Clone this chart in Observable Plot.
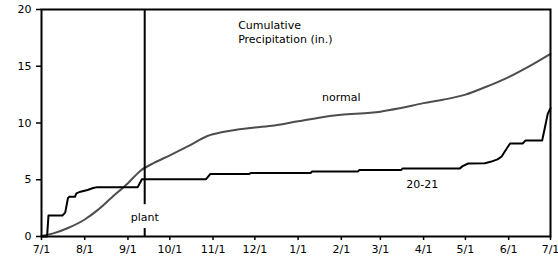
<!DOCTYPE html>
<html>
<head>
<meta charset="utf-8">
<script src="https://cdn.jsdelivr.net/npm/d3@7"></script>
<script src="https://cdn.jsdelivr.net/npm/@observablehq/plot@0.6"></script>
<style>
  html, body { margin: 0; padding: 0; background: #fff; }
  #chart svg { display: block; }
</style>
</head>
<body>
<div id="chart"></div>
<script>
// ---- data ----
const normalDates = ["2020-07-01","2020-07-10","2020-07-20","2020-08-01","2020-08-10","2020-08-20","2020-09-01","2020-09-10","2020-09-20","2020-10-01","2020-10-15","2020-10-28","2020-11-08","2020-11-20","2020-12-01","2020-12-15","2021-01-01","2021-01-15","2021-02-01","2021-02-22","2021-03-01","2021-03-15","2021-04-01","2021-04-15","2021-05-01","2021-05-15","2021-06-01","2021-06-15","2021-07-01"];
const normalValues = [0.05,0.3,0.75,1.5,2.3,3.4,4.7,5.8,6.5,7.15,8.0,8.85,9.2,9.45,9.6,9.78,10.15,10.45,10.72,10.9,11.0,11.3,11.75,12.05,12.5,13.15,14.05,14.95,16.1];

const rainDates = ["2020-07-01","2020-07-05","2020-07-06","2020-07-16","2020-07-18","2020-07-20","2020-07-21","2020-07-25","2020-07-26","2020-07-29","2020-08-03","2020-08-07","2020-08-10","2020-09-08","2020-09-11","2020-10-27","2020-10-30","2020-11-27","2020-11-28","2021-01-10","2021-01-11","2021-02-13","2021-02-14","2021-03-16","2021-03-17","2021-04-27","2021-04-29","2021-05-03","2021-05-15","2021-05-19","2021-05-24","2021-05-27","2021-05-29","2021-06-02","2021-06-11","2021-06-13","2021-06-25","2021-06-27","2021-06-29","2021-07-01"];
const rainValues = [0,0,1.85,1.85,2.1,3.4,3.5,3.5,3.8,3.95,4.1,4.27,4.35,4.35,5.05,5.05,5.5,5.5,5.6,5.6,5.73,5.73,5.87,5.87,6.0,6.0,6.2,6.43,6.45,6.58,6.8,7.05,7.45,8.2,8.2,8.45,8.45,9.6,10.8,11.3];

const xTickDates = ["2020-07-01","2020-08-01","2020-09-01","2020-10-01","2020-11-01","2020-12-01","2021-01-01","2021-02-01","2021-03-01","2021-04-01","2021-05-01","2021-06-01","2021-07-01"];
const xTickLabels = ["7/1","8/1","9/1","10/1","11/1","12/1","1/1","2/1","3/1","4/1","5/1","6/1","7/1"];
const yTicks = [0,5,10,15,20];

const plantDate = "2020-09-13";
const plantSegments = [[20, 2.8], [0.7, 0]];

const labelTexts = ["Cumulative","Precipitation (in.)","normal","20-21","plant"];
const labelDates = ["2020-11-19","2020-11-19","2021-02-01","2021-03-31","2020-09-13"];
const labelValues = [18.63,17.4,12.23,4.6,1.65];
const labelAnchors = ["start","start","middle","middle","middle"];

// ---- build ----
const P = d3.utcParse("%Y-%m-%d");
const normal = normalDates.map((d,i) => ({date: P(d), value: normalValues[i]}));
const rain = rainDates.map((d,i) => ({date: P(d), value: rainValues[i]}));
const xt = xTickDates.map(P);
const labelMap = new Map(xt.map((d,i) => [+d, xTickLabels[i]]));
const plant = plantSegments.map(([a,b]) => ({date: P(plantDate), y1: a, y2: b}));
const labels = labelTexts.map((t,i) => ({text: t, date: P(labelDates[i]), value: labelValues[i], anchor: labelAnchors[i]}));

const chart = Plot.plot({
  width: 558,
  height: 259,
  marginLeft: 41,
  marginRight: 8,
  marginTop: 9,
  marginBottom: 23,
  style: {fontFamily: "DejaVu Sans", fontSize: "11px", color: "#000", background: "#fff"},
  x: {type: "utc", domain: [P("2020-07-01"), P("2021-07-01")]},
  y: {domain: [0, 20]},
  marks: [
    Plot.axisX({ticks: xt, tickFormat: d => labelMap.get(+d), tickSize: 4, tickPadding: 5, strokeWidth: 1.5, fontSize: 11, label: null}),
    Plot.axisY({ticks: yTicks, tickSize: 5, tickPadding: 5, strokeWidth: 1.5, fontSize: 11, label: null}),
    Plot.line(normal, {x: "date", y: "value", stroke: "#4d4d4d", strokeWidth: 2, curve: "monotone-x"}),
    Plot.line(rain, {x: "date", y: "value", stroke: "#000", strokeWidth: 2, curve: "linear"}),
    Plot.ruleX(plant, {x: "date", y1: "y1", y2: "y2", stroke: "#000", strokeWidth: 2}),
    Plot.frame({stroke: "#000", strokeWidth: 2}),
    Plot.text(labels.filter(d => d.anchor === "start"), {x: "date", y: "value", text: "text", textAnchor: "start", fill: "#000", fontSize: 11}),
    Plot.text(labels.filter(d => d.anchor === "middle"), {x: "date", y: "value", text: "text", textAnchor: "middle", fill: "#000", fontSize: 11})
  ]
});
document.getElementById("chart").appendChild(chart);
</script>
</body>
</html>
